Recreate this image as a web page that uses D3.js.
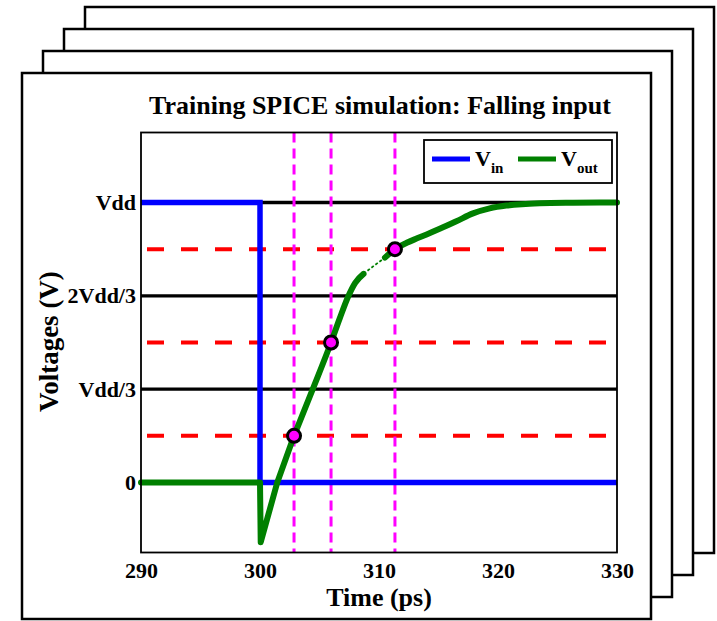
<!DOCTYPE html>
<html>
<head>
<meta charset="utf-8">
<script src="https://cdn.jsdelivr.net/npm/d3@7"></script>
<style>
  html, body { margin: 0; padding: 0; background: #fff; }
  svg { display: block; font-family: "Liberation Serif", "Times New Roman", serif; font-weight: bold; }
</style>
</head>
<body>
<svg id="chart" width="717" height="621"></svg>
<script>
// Voltages are fractions of Vdd, times are in picoseconds.
const xTicks = [290, 300, 310, 320, 330];
const yTickValues = [0, 1 / 3, 2 / 3, 1];
const yTickLabels = ["0", "Vdd/3", "2Vdd/3", "Vdd"];

// Reference levels (red dashed) and the times Vout crosses them (magenta).
const thresholdLevels = [1 / 6, 1 / 2, 5 / 6];
const crossingTimes = [302.86, 305.97, 311.34];

// Input: a falling step at 300 ps.
const vinTime = [290, 300, 300, 330];
const vinValue = [1, 1, 0, 0];

// Output: undershoot after the input edge, then a rise to Vdd.
const voutTime = [290, 300, 300.06, 301.45, 302.86, 304.4, 305.97, 306.7, 307.42, 308.0, 308.7,
                  309.6, 310.5, 311.34, 312.33, 313.2, 314.0, 315.1, 316.5, 317.9, 319.3, 320.7,
                  322.0, 323.5, 326.3, 330];
const voutValue = [0, 0, -0.213, 0, 1 / 6, 0.33, 0.5, 0.586, 0.665, 0.713, 0.745,
                   0.775, 0.803, 5 / 6, 0.856, 0.872, 0.886, 0.906, 0.933, 0.961, 0.979, 0.989,
                   0.994, 0.997, 0.999, 1.0];
// Stretch of the output trace that the simulator plotted sparsely.
const sparseSpan = [308.7, 310.5];
// Before this time the trace is drawn piecewise linear (sharp undershoot).
const edgeEnd = 302.86;

const seriesNames = ["in", "out"];
const seriesColors = ["#0000ff", "#008000"];

const svg = d3.select("#chart");

// Stack of sheets behind the figure, back to front.
const sheets = [3, 2, 1, 0];
const sheetStep = { dx: 21, dy: -22 };
const sheetBase = { x: 22, y: 73, w: 629, h: 546 };
svg.append("g").selectAll("rect").data(sheets).join("rect")
  .attr("x", d => sheetBase.x + d * sheetStep.dx)
  .attr("y", d => sheetBase.y + d * sheetStep.dy)
  .attr("width", sheetBase.w)
  .attr("height", sheetBase.h)
  .attr("fill", "#fff")
  .attr("stroke", "#000")
  .attr("stroke-width", 2.5);

const plot = { left: 141, right: 617, top: 132.5, bottom: 552.5 };
const x = d3.scaleLinear().domain([290, 330]).range([plot.left, plot.right]);
const y = d3.scaleLinear().domain([-0.25, 1.25]).range([plot.bottom, plot.top]);

const g = svg.append("g");

// Horizontal grid at the Vdd fractions.
g.append("g").selectAll("line").data(yTickValues).join("line")
  .attr("x1", plot.left).attr("x2", plot.right)
  .attr("y1", d => y(d)).attr("y2", d => y(d))
  .attr("stroke", "#000").attr("stroke-width", 3.4);

// Threshold levels.
g.append("g").selectAll("line").data(thresholdLevels).join("line")
  .attr("x1", plot.left).attr("x2", plot.right)
  .attr("y1", d => y(d)).attr("y2", d => y(d))
  .attr("stroke", "#ff0000").attr("stroke-width", 4)
  .attr("stroke-dasharray", "17,17").attr("stroke-dashoffset", 28);

// Crossing-time markers.
g.append("g").selectAll("line").data(crossingTimes).join("line")
  .attr("x1", d => x(d)).attr("x2", d => x(d))
  .attr("y1", plot.top).attr("y2", plot.bottom)
  .attr("stroke", "#ff00ff").attr("stroke-width", 3)
  .attr("stroke-dasharray", "10,6");

const linear = d3.line().x(d => x(d.t)).y(d => y(d.v));
const smooth = d3.line().x(d => x(d.t)).y(d => y(d.v)).curve(d3.curveMonotoneX);

const vin = vinTime.map((t, i) => ({ t, v: vinValue[i] }));
const vout = voutTime.map((t, i) => ({ t, v: voutValue[i] }));

g.append("path").datum(vin)
  .attr("d", linear)
  .attr("fill", "none").attr("stroke", seriesColors[0]).attr("stroke-width", 5.5);

const thick = path => path
  .attr("fill", "none").attr("stroke", seriesColors[1]).attr("stroke-width", 6)
  .attr("stroke-linejoin", "round").attr("stroke-linecap", "round");

// Flat section and undershoot.
g.append("path").datum(vout.filter(d => d.t <= edgeEnd))
  .attr("d", linear).call(thick);

// Rising section, drawn smooth, broken over the sparse stretch.
g.append("path").datum(vout.filter(d => d.t >= edgeEnd))
  .attr("d", smooth.defined(d => d.t <= sparseSpan[0] || d.t >= sparseSpan[1]))
  .call(thick);

// Sparse stretch.
g.append("path").datum(vout.filter(d => d.t >= sparseSpan[0] && d.t <= sparseSpan[1]))
  .attr("d", smooth.defined(() => true))
  .attr("fill", "none").attr("stroke", seriesColors[1]).attr("stroke-width", 1.8)
  .attr("stroke-dasharray", "3,2");

// Crossing points.
g.append("g").selectAll("circle").data(crossingTimes).join("circle")
  .attr("cx", d => x(d))
  .attr("cy", (d, i) => y(thresholdLevels[i]))
  .attr("r", 6.5)
  .attr("fill", "#ff00ff").attr("stroke", "#000").attr("stroke-width", 3);

// Plot frame.
g.append("rect")
  .attr("x", plot.left).attr("y", plot.top)
  .attr("width", plot.right - plot.left).attr("height", plot.bottom - plot.top)
  .attr("fill", "none").attr("stroke", "#000").attr("stroke-width", 1.8);

// Axes.
const xAxis = d3.axisBottom(x).tickValues(xTicks).tickSize(0).tickPadding(10).tickFormat(d3.format("d"));
const gx = svg.append("g").attr("transform", `translate(0,${plot.bottom})`).call(xAxis)
  .attr("font-family", null).attr("font-size", 22);
gx.select(".domain").remove();
gx.selectAll("text").attr("fill", "#000");

const yAxis = d3.axisLeft(y).tickValues(yTickValues).tickSize(0).tickPadding(5)
  .tickFormat((d, i) => yTickLabels[i]);
const gy = svg.append("g").attr("transform", `translate(${plot.left},0)`).call(yAxis)
  .attr("font-family", null).attr("font-size", 22);
gy.select(".domain").remove();
gy.selectAll("text").attr("fill", "#000");

// Titles.
svg.append("text")
  .attr("x", 380).attr("y", 114)
  .attr("text-anchor", "middle").attr("font-size", 26)
  .text("Training SPICE simulation: Falling input");

svg.append("text")
  .attr("x", (plot.left + plot.right) / 2).attr("y", 606)
  .attr("text-anchor", "middle").attr("font-size", 26)
  .text("Time (ps)");

svg.append("text")
  .attr("transform", `translate(58,${(plot.top + plot.bottom) / 2 - 1}) rotate(-90)`)
  .attr("text-anchor", "middle").attr("font-size", 27)
  .text("Voltages (V)");

// Legend.
const legend = svg.append("g").attr("transform", "translate(424,140)");
legend.append("rect")
  .attr("width", 188).attr("height", 43)
  .attr("fill", "#fff").attr("stroke", "#000").attr("stroke-width", 1.8);
const items = legend.selectAll("g.item").data(seriesNames).join("g")
  .attr("class", "item")
  .attr("transform", (d, i) => `translate(${8 + i * 86},0)`);
items.append("line")
  .attr("x1", 0).attr("x2", 38).attr("y1", 19).attr("y2", 19)
  .attr("stroke", (d, i) => seriesColors[i]).attr("stroke-width", 5);
const labels = items.append("text").attr("x", 43).attr("y", 26).attr("font-size", 22);
labels.append("tspan").text("V");
labels.append("tspan").attr("dy", 7).attr("font-size", 15).text(d => d);
</script>
</body>
</html>
